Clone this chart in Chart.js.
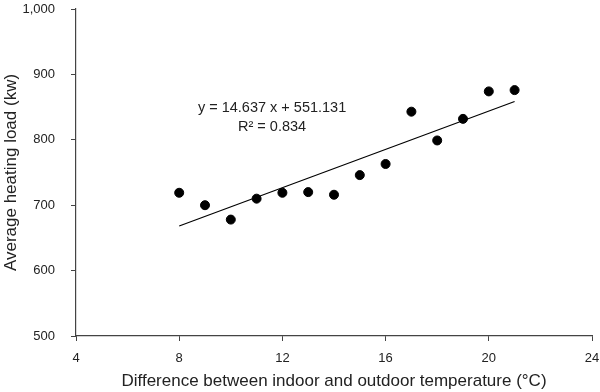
<!DOCTYPE html>
<html>
<head>
<meta charset="utf-8">
<script src="https://cdn.jsdelivr.net/npm/chart.js@4/dist/chart.umd.min.js"></script>
<style>
  html, body { margin: 0; padding: 0; background: #fff; }
  #wrap { width: 600px; height: 392px; position: relative; }
</style>
</head>
<body>
<div id="wrap"><canvas id="graphe"></canvas></div>
<script>
// temperature difference (°C)
var tempDiff = [8, 9, 10, 11, 12, 13, 14, 15, 16, 17, 18, 19, 20, 21];
// average heating load (kw)
var heatLoad = [719, 700, 678, 710, 719, 720, 716, 746, 763, 843, 799, 832, 874, 876];
// linear trendline end points
var trendX = [8, 21];
var trendY = [668.2, 858.5];
// trendline label
var eqnLines = ["y = 14.637 x + 551.131", "R\u00B2 = 0.834"];

var axisColor = "#444";
var textColor = "#222";
var font = "'Liberation Sans', Arial, sans-serif";

//draw the equation text in the plot
var eqnPlugin = {
    id: "eqn",
    afterDatasetsDraw: function(chart){
        var ctx = chart.ctx;
        var px = chart.scales.x.getPixelForValue(11.6);
        var py = chart.scales.y.getPixelForValue(848);
        ctx.save();
        ctx.fillStyle = textColor;
        ctx.font = "14.5px " + font;
        ctx.textAlign = "center";
        ctx.textBaseline = "middle";
        for (var i = 0; i < eqnLines.length; i++) {
            ctx.fillText(eqnLines[i], px, py + i * 19);
        }
        ctx.restore();
    }
};

var points = tempDiff.map(function(x, i){ return {x: x, y: heatLoad[i]}; });
var trend = trendX.map(function(x, i){ return {x: x, y: trendY[i]}; });

var myChart = new Chart(document.getElementById("graphe").getContext("2d"), {
    type: "scatter",
    data: {
        datasets: [{
            label: "Heating load",
            data: points,
            backgroundColor: "#000",
            borderColor: "#000",
            pointRadius: 4.5,
            pointHoverRadius: 4.5
        },
        {
            label: "Trend",
            type: "line",
            data: trend,
            borderColor: "#000",
            borderWidth: 1.2,
            pointRadius: 0,
            fill: false
        }]
    },
    options: {
        responsive: true,
        maintainAspectRatio: false,
        animation: false,
        layout: { padding: { top: 9, right: 8, left: 0, bottom: 0 } },
        plugins: { legend: { display: false }, tooltip: { enabled: false } },
        scales: {
            x: {
                type: "linear",
                min: 4, max: 24,
                ticks: { stepSize: 4, color: textColor, font: { family: font, size: 13 }, padding: 10 },
                grid: { drawOnChartArea: false, drawTicks: true, tickLength: 5, color: axisColor },
                border: { color: axisColor, width: 1.2 },
                title: { display: true, text: "Difference between indoor and outdoor temperature (\u00B0C)",
                         color: textColor, font: { family: font, size: 17 }, padding: { top: 0, bottom: 0 } },
                afterFit: function(s){ s.height = 56; s.paddingLeft = 0; s.paddingRight = 0; }
            },
            y: {
                min: 500, max: 1000,
                ticks: { stepSize: 100, color: textColor, font: { family: font, size: 13 }, padding: 16 },
                grid: { drawOnChartArea: false, drawTicks: true, tickLength: 5, color: axisColor },
                border: { color: axisColor, width: 1.2 },
                title: { display: true, text: "Average heating load (kw)",
                         color: textColor, font: { family: font, size: 17 }, padding: { top: 1, bottom: 0 } },
                afterFit: function(s){ s.width = 76; s.paddingTop = 0; s.paddingBottom = 0; }
            }
        }
    },
    plugins: [eqnPlugin]
});
</script>
</body>
</html>
